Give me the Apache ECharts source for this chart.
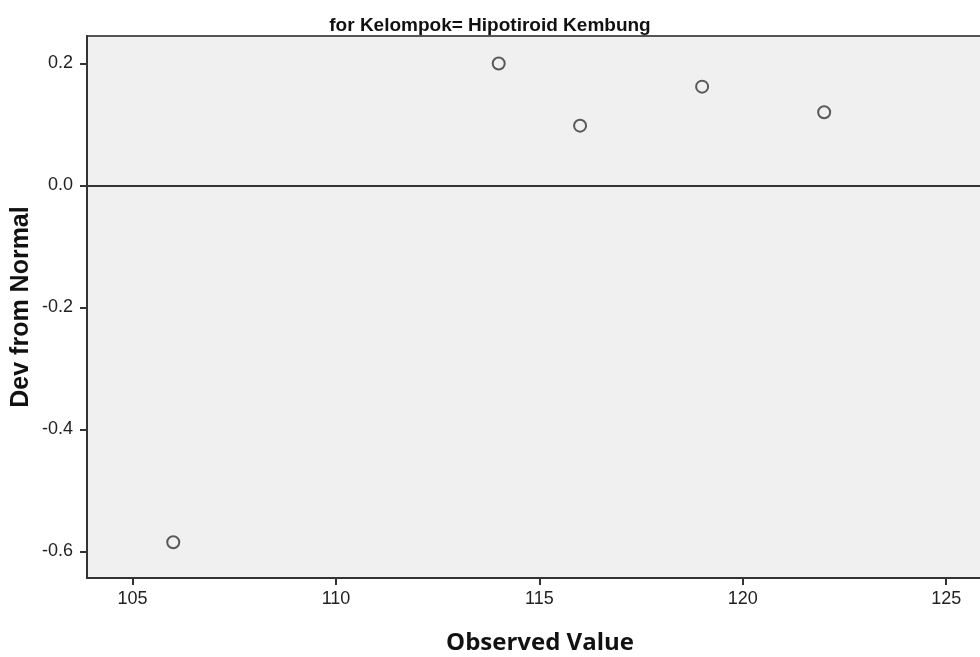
<!DOCTYPE html>
<html>
<head>
<meta charset="utf-8">
<style>
  html, body { margin: 0; padding: 0; background: #ffffff; }
  #chart { width: 980px; height: 657px; }
</style>
<script src="https://cdn.jsdelivr.net/npm/echarts@6/dist/echarts.min.js"></script>
</head>
<body>
<div id="chart"></div>
<script>
// Detrended normal Q-Q plot values
const observedValues = [106, 114, 116, 119, 122];
const devFromNormal = [-0.585, 0.200, 0.098, 0.162, 0.120];

// Tick positions on each axis
const xTicks = [105, 110, 115, 120, 125];
const yTicks = [-0.6, -0.4, -0.2, 0.0, 0.2];

const chart = echarts.init(document.getElementById('chart'), null, { renderer: 'canvas' });

const points = observedValues.map((v, i) => [v, devFromNormal[i]]);

chart.setOption({
  animation: false,
  backgroundColor: '#ffffff',
  title: {
    text: 'for Kelompok= Hipotiroid Kembung',
    left: 'center',
    top: 11,
    textStyle: {
      fontFamily: 'Liberation Sans',
      fontWeight: 'bold',
      fontSize: 19,
      color: '#111'
    }
  },
  // plot area runs past the right edge of the canvas
  grid: {
    left: 87,
    top: 36,
    width: 906,
    height: 542,
    outerBoundsMode: 'none',
    containLabel: false,
    show: true,
    backgroundColor: '#f0f0f0',
    borderColor: '#555',
    borderWidth: 2
  },
  xAxis: {
    type: 'value',
    min: 103.88,
    max: 126.15,
    name: 'Observed Value',
    nameLocation: 'middle',
    nameGap: 53,
    nameMoveOverlap: false,
    nameTextStyle: {
      fontFamily: 'Open Sans',
      fontWeight: 'bold',
      fontSize: 24,
      color: '#111'
    },
    axisLine: { onZero: false, lineStyle: { color: '#333', width: 2 } },
    axisTick: {
      show: true,
      length: 7,
      lineStyle: { color: '#333', width: 2 },
      customValues: xTicks
    },
    axisLabel: {
      customValues: xTicks,
      formatter: v => String(v),
      fontFamily: 'Liberation Sans',
      fontSize: 18,
      color: '#222',
      margin: 12
    },
    splitLine: { show: false }
  },
  yAxis: {
    type: 'value',
    min: -0.6435,
    max: 0.245,
    name: 'Dev from Normal',
    nameLocation: 'middle',
    nameGap: 53,
    nameRotate: 90,
    nameMoveOverlap: false,
    nameTextStyle: {
      fontFamily: 'Liberation Sans',
      fontWeight: 'bold',
      fontSize: 25,
      color: '#111'
    },
    axisLine: { show: true, onZero: false, lineStyle: { color: '#333', width: 2 } },
    axisTick: {
      show: true,
      length: 7,
      lineStyle: { color: '#333', width: 2 },
      customValues: yTicks
    },
    axisLabel: {
      customValues: yTicks,
      formatter: v => v.toFixed(1),
      fontFamily: 'Liberation Sans',
      fontSize: 18,
      color: '#222',
      margin: 14
    },
    splitLine: { show: false }
  },
  series: [{
    type: 'scatter',
    data: points,
    symbol: 'circle',
    symbolSize: 12,
    itemStyle: {
      color: '#f0f0f0',
      borderColor: '#333',
      borderWidth: 2
    },
    markLine: {
      silent: true,
      symbol: ['none', 'none'],
      label: { show: false },
      lineStyle: { color: '#333', width: 2, type: 'solid' },
      data: [{ yAxis: 0 }]
    },
    z: 3
  }]
});
</script>
</body>
</html>
